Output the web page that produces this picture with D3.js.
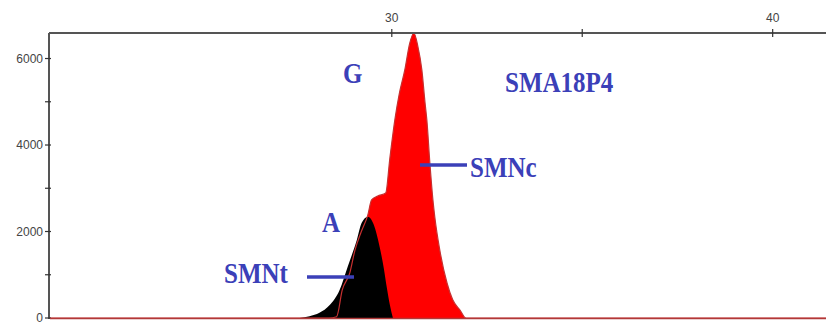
<!DOCTYPE html>
<html>
  <head>
    <meta charset="utf-8"/>
    <style>
      body { margin: 0; background: #fff; }
    </style>
  </head>
  <body>
     <script src="https://d3js.org/d3.v7.min.js"></script>
     <script type="text/javascript">
       var width = 826, height = 322;

       // red trace (SMNc, G allele) - size vs signal
       var redX = [21, 28.35, 28.55, 28.7, 28.9, 29.03, 29.2, 29.37, 29.47, 29.63, 29.84, 29.95,
                   30.08, 30.2, 30.34, 30.47, 30.58, 30.68, 30.79, 30.87, 30.92, 31.0, 31.08,
                   31.13, 31.26, 31.45, 31.6, 31.79, 31.95, 41.4];
       var redY = [0, 0, 30, 650, 1050, 1560, 2000, 2380, 2730, 2820, 2890, 3700,
                   4580, 5200, 5730, 6350, 6590, 6300, 5730, 5000, 4580, 3580, 2730,
                   2330, 1570, 810, 420, 185, 0, 0];
       // black trace (SMNt, A allele)
       var blackX = [27.58, 27.84, 28.1, 28.37, 28.63, 28.84, 29.08, 29.21, 29.37, 29.53,
                     29.68, 29.79, 29.87, 29.95, 30.03];
       var blackY = [0, 40, 120, 300, 650, 1180, 1800, 2200, 2340, 2150,
                     1650, 1150, 700, 300, 0];

       var xTicks = [30, 35, 40];
       var xLabels = [30, 40];
       var yTicks = [0, 1000, 2000, 3000, 4000, 5000, 6000];
       var yLabels = [0, 2000, 4000, 6000];

       var labels = [
         {text: "G", x: 343, y: 83},
         {text: "SMA18P4", x: 505, y: 92},
         {text: "SMNc", x: 470, y: 177},
         {text: "A", x: 322, y: 232},
         {text: "SMNt", x: 224, y: 283}
       ];
       var leaders = [[420, 467, 165], [307, 354, 277]];

       var svg = d3.select("body")
                   .append("svg")
                   .attr("width", width)
                   .attr("height", height)
                   .attr("xmlns", "http://www.w3.org/2000/svg");

       var x = d3.scaleLinear().domain([21, 41.4]).range([49, 826]);
       var y = d3.scaleLinear().domain([0, 6590]).range([318, 33]);

       var red = redX.map(function(d, i) { return [d, redY[i]]; });
       var black = blackX.map(function(d, i) { return [d, blackY[i]]; });

       var area = d3.area()
                    .x(function(d) { return x(d[0]); })
                    .y0(y(0))
                    .y1(function(d) { return y(d[1]); })
                    .curve(d3.curveMonotoneX);
       var line = d3.line()
                    .x(function(d) { return x(d[0]); })
                    .y(function(d) { return y(d[1]); })
                    .curve(d3.curveMonotoneX);

       svg.append("path").attr("d", area(red)).attr("fill", "#ff0000");
       svg.append("path").attr("d", area(black)).attr("fill", "#000");
       svg.append("path").attr("d", line(red))
          .attr("fill", "none").attr("stroke", "#c83030").attr("stroke-width", 1.2);

       // axes
       var grey = "#555";
       svg.append("line").attr("x1", 49).attr("x2", 826).attr("y1", 33).attr("y2", 33)
          .attr("stroke", grey).attr("stroke-width", 2);
       svg.append("line").attr("x1", 49).attr("x2", 49).attr("y1", 33).attr("y2", 319)
          .attr("stroke", grey).attr("stroke-width", 2);

       svg.selectAll(".xt").data(xTicks).enter().append("line")
          .attr("x1", function(d) { return x(d); }).attr("x2", function(d) { return x(d); })
          .attr("y1", 29).attr("y2", 37).attr("stroke", "#333").attr("stroke-width", 1.2);
       svg.selectAll(".xl").data(xLabels).enter().append("text")
          .attr("x", function(d) { return x(d); }).attr("y", 22)
          .attr("text-anchor", "middle")
          .style("font", "12px 'Liberation Sans', Arial, sans-serif").attr("fill", "#444")
          .text(function(d) { return d; });

       svg.selectAll(".yt").data(yTicks).enter().append("line")
          .attr("x1", 45).attr("x2", 51)
          .attr("y1", function(d) { return y(d); }).attr("y2", function(d) { return y(d); })
          .attr("stroke", "#333").attr("stroke-width", 1.2);
       svg.selectAll(".yl").data(yLabels).enter().append("text")
          .attr("x", 43).attr("y", function(d) { return y(d) + 4; })
          .attr("text-anchor", "end")
          .style("font", "12px 'Liberation Sans', Arial, sans-serif").attr("fill", "#444")
          .text(function(d) { return d; });

       // baseline
       svg.append("line").attr("x1", 50).attr("x2", 826).attr("y1", 318.5).attr("y2", 318.5)
          .attr("stroke", "#b03838").attr("stroke-width", 1.5);

       // annotations
       var blue = "#3b40b8";
       svg.selectAll(".ld").data(leaders).enter().append("line")
          .attr("x1", function(d) { return d[0]; }).attr("x2", function(d) { return d[1]; })
          .attr("y1", function(d) { return d[2]; }).attr("y2", function(d) { return d[2]; })
          .attr("stroke", blue).attr("stroke-width", 3.5);
       svg.selectAll(".lb").data(labels).enter().append("text")
          .attr("transform", function(d) { return "translate(" + d.x + "," + d.y + ") scale(1,1.15)"; })
          .style("font", "bold 25px 'Liberation Serif', 'Times New Roman', serif")
          .attr("fill", blue)
          .text(function(d) { return d.text; });
  </script>
</body>
</html>
